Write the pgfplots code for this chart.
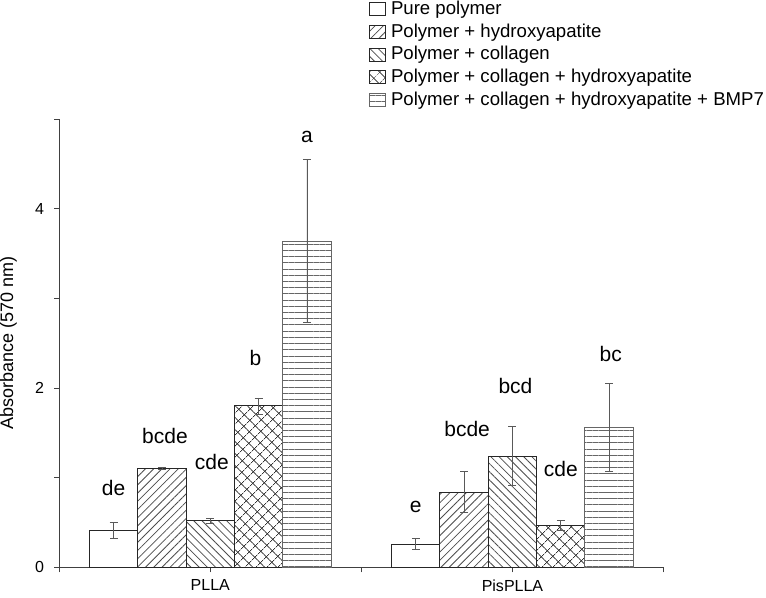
\documentclass[border=0pt]{standalone}
\usepackage{fontspec}
\setmainfont{Liberation Sans}
\usepackage{pgfplots}
\pgfplotsset{compat=1.18}
\usetikzlibrary{patterns.meta}

\begin{document}
\begin{tikzpicture}
\begin{axis}[
    scale only axis,
    width=302pt, height=224pt,
    xmin=0, xmax=4,
    ymin=0, ymax=5,
    axis lines=left,
    axis line style={-, black!75, line width=0.5pt},
    xtick={0,1,2,3,4},
    xticklabels={,PLLA,,PisPLLA,},
    ytick={0,2,4},
    minor ytick={1,3,5},
    tick align=outside,
    major tick length=2.5pt,
    minor tick length=2.5pt,
    tick style={black!75, line width=0.5pt},
    /pgf/number format/assume math mode=true,
    tick label style={font=\fontsize{8}{9.6}\selectfont},
    yticklabel style={xshift=-1.5pt},
    ylabel={Absorbance (570 nm)},
    ylabel style={at={(axis description cs:-0.084,0.5)}, anchor=center, inner sep=0pt, font=\fontsize{9}{10.8}\selectfont},
    ybar, bar width=0.32, bar shift=0pt,
    clip=false,
    legend style={at={(axis description cs:0.512,1.021)}, anchor=south west,
        draw=none, fill=none, font=\fontsize{9.3}{11}\selectfont,
        row sep=2.1pt, inner sep=0pt, nodes={inner xsep=1pt, inner ysep=0.5pt}},
    legend cell align=left,
    legend image code/.code={\draw[#1, bar shift=0pt] (0pt,-3.2pt) rectangle (8pt,3.2pt); \path (9.5pt,0pt);},
    error bars/y dir=both,
    error bars/y explicit,
    error bars/error bar style={black!65, line width=0.4pt},
    error bars/error mark options={rotate=90, mark size=2pt, black!65, line width=0.4pt},
]
% Pure polymer
\addplot[draw=black!85, fill=white, line width=0.5pt] coordinates {
    (0.36,0.41) +- (0,0.09)
    (2.36,0.26) +- (0,0.06)
};
\addlegendentry{Pure polymer}
% + hydroxyapatite
\addplot[draw=black!85, line width=0.5pt, pattern={Lines[angle=45,distance=2.9pt,line width=0.4pt]}, pattern color=black!70] coordinates {
    (0.68,1.10) +- (0,0.01)
    (2.68,0.84) +- (0,0.23)
};
\addlegendentry{Polymer + hydroxyapatite}
% + collagen
\addplot[draw=black!85, line width=0.5pt, pattern={Lines[angle=-45,distance=2.9pt,line width=0.4pt]}, pattern color=black!70] coordinates {
    (1.00,0.52) +- (0,0.03)
    (3.00,1.24) +- (0,0.33)
};
\addlegendentry{Polymer + collagen}
% + collagen + hydroxyapatite
\addplot[draw=black!85, line width=0.5pt, pattern={Hatch[angle=45,distance=4pt,line width=0.4pt]}, pattern color=black!80] coordinates {
    (1.32,1.80) +- (0,0.09)
    (3.32,0.47) +- (0,0.055)
};
\addlegendentry{Polymer + collagen + hydroxyapatite}
% + collagen + hydroxyapatite + BMP7
\addplot[draw=black!60, line width=0.5pt, pattern={Lines[angle=0,distance=3.1pt,line width=0.4pt]}, pattern color=black!60] coordinates {
    (1.64,3.64) +- (0,0.91)
    (3.64,1.56) +- (0,0.49)
};
\addlegendentry{Polymer + collagen + hydroxyapatite + BMP7}

% significance letters
\begin{scope}[font=\fontsize{10.5}{12.6}\selectfont]
\node at (axis cs:0.36,0.88) {de};
\node at (axis cs:0.70,1.46) {bcde};
\node at (axis cs:1.01,1.17) {cde};
\node at (axis cs:1.30,2.33) {b};
\node at (axis cs:1.64,4.80) {a};
\node at (axis cs:2.36,0.67) {e};
\node at (axis cs:2.70,1.54) {bcde};
\node at (axis cs:3.02,2.02) {bcd};
\node at (axis cs:3.32,1.10) {cde};
\node at (axis cs:3.65,2.38) {bc};
\end{scope}
\end{axis}
\end{tikzpicture}
\end{document}
